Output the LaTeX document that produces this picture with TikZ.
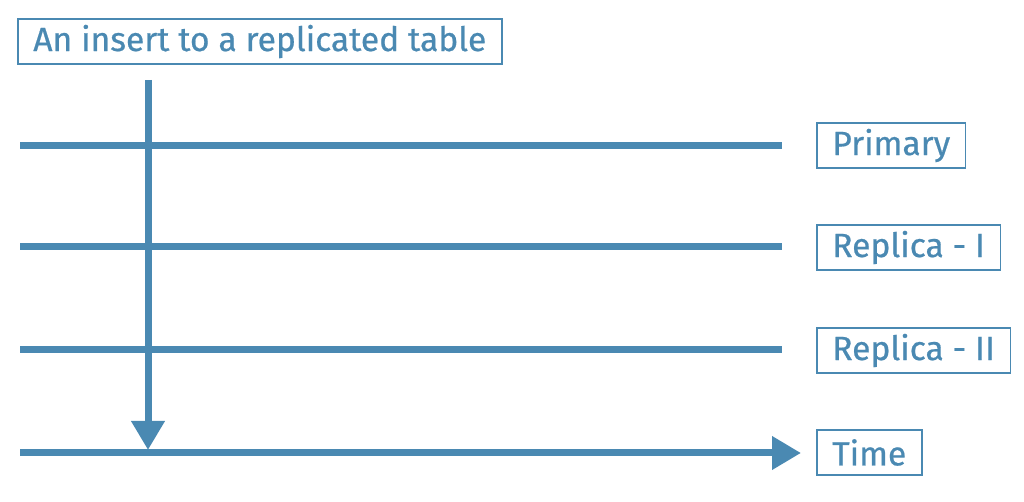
\documentclass[tikz,border=0pt]{standalone}
\usepackage{fontspec}
\setmainfont{Fira Sans}[UprightFeatures={FakeBold=0.6}]
\usepackage{tikz}
\usetikzlibrary{arrows.meta, positioning}
\definecolor{lineblue}{RGB}{74,137,178}
\tikzset{
  tagbox/.style = {rectangle, draw=lineblue, line width=1.6pt, text=lineblue, anchor=west, inner xsep=15.5pt, minimum height=45pt, font=\fontsize{33.6}{38}\selectfont},
  timeline/.style = {draw=lineblue, line width=7pt},
  timearrow/.style = {timeline, -{Triangle[length=29pt,width=32pt]}}
}
\begin{document}
\begin{tikzpicture}[x=1pt, y=1pt]
    \useasboundingbox (0,0) rectangle (1024,502);
    % labels
    \node[tagbox] (title) at (17,460.5) {An insert to a replicated table};
    \node[tagbox] (prim) at (816,356.5) {Primary};
    \node[tagbox] (repa) at (816,254.5) {Replica - I};
    \node[tagbox] (repb) at (816,151.5) {Replica - II};
    \node[tagbox] (time) at (816,49.5) {Time};
    % line ends
    \coordinate (prim-l) at (20,356);
    \coordinate (prim-r) at (782,356);
    \coordinate (repa-l) at (20,255);
    \coordinate (repa-r) at (782,255);
    \coordinate (repb-l) at (20,152);
    \coordinate (repb-r) at (782,152);
    \coordinate (time-l) at (20,49);
    \coordinate (time-r) at (801,49);
    \coordinate (ins) at (148,422);
    \coordinate (hit) at (148,52);
    % timelines
    \draw[timeline] (prim-l) -- (prim-r);
    \draw[timeline] (repa-l) -- (repa-r);
    \draw[timeline] (repb-l) -- (repb-r);
    \draw[timearrow] (time-l) -- (time-r);
    \draw[timearrow] (ins) -- (hit);
\end{tikzpicture}
\end{document}
